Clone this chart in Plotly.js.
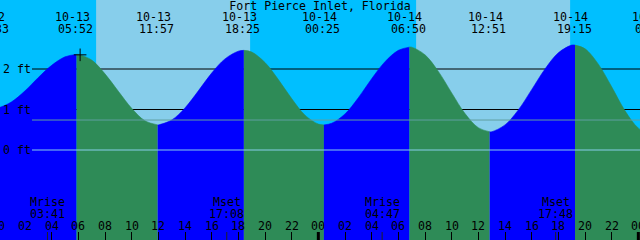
<!DOCTYPE html>
<html><head><meta charset="utf-8">
<script src="https://cdn.plot.ly/plotly-3.0.1.min.js"></script>
<style>html,body{margin:0;padding:0;background:#00BFFF;overflow:hidden;} #chart{width:640px;height:240px;}</style>
</head><body><div id="chart"></div>
<script>
// ---- data ----
const stationName = 'Fort Pierce Inlet, Florida';
const extremeDates = ['10-12','10-13','10-13','10-13','10-14','10-14','10-14','10-14','10-15'];
const extremeTimes = ['23:33','05:52','11:57','18:25','00:25','06:50','12:51','19:15','01:10'];
const extremeHeights = [1.02, 2.36, 0.62, 2.46, 0.62, 2.54, 0.45, 2.59, 0.35];
// hourly tide height readings (ft), starting 10-13 00:00
const readingStartDate = '10-13';
const hourlyHeights = [1.04,1.19,1.46,1.79,2.09,2.30,2.36,2.22,1.88,1.45,1.03,0.72,
  0.62,0.74,1.04,1.46,1.90,2.25,2.44,2.42,2.16,1.74,1.27,0.86,
  0.64,0.66,0.89,1.29,1.76,2.18,2.46,2.54,2.35,1.94,1.41,0.90,
  0.55,0.45,0.62,0.99,1.49,2.00,2.40,2.59,2.50,2.12,1.56,0.97,
  0.54,0.36];
const sunDates = ['10-13','10-14'];
const sunriseTimes = ['07:20','07:20'];
const sunsetTimes = ['18:53','18:53'];
const moonDates = ['10-13','10-13','10-14','10-14'];
const moonEvents = ['Mrise','Mset','Mrise','Mset'];
const moonTimes = ['03:41','17:08','04:47','17:48'];
const hourTicks = [0,2,4,6,8,10,12,14,16,18,20,22,24,26,28,30,32,34,36,38,40,42,44,46,48];
const hourTickLabels = ['00','02','04','06','08','10','12','14','16','18','20','22',
  '00','02','04','06','08','10','12','14','16','18','20','22','00'];
const midnightHours = [0,24,48];
const heightTicks = [0,1,2];
const heightTickLabels = ['0 ft','1 ft','2 ft'];
const gridLevels = [1,2];
const datumLevel = 0;
const midLevel = 0.74;
const nowDate = '10-13', nowTime = '06:08', nowHeight = 2.35;

// ---- helpers ----
const baseDay = parseInt(readingStartDate.split('-')[1], 10);
function toHours(date, time) {
  const d = parseInt(date.split('-')[1], 10) - baseDay;
  const [hh, mm] = time.split(':').map(Number);
  return d * 24 + hh + mm / 60;
}
const X0 = 0.125, X1 = 48.125;
const Y0 = -90 / 40.5, Y1 = 150 / 40.5;
const frac = t => (t - X0) / (X1 - X0);

const FONT = {family: 'DejaVu Sans Mono, monospace', size: 11.6, color: '#000'};
const RISE = '#0000FF', FALL = '#2E8B57';

const extHours = extremeDates.map((d, i) => toHours(d, extremeTimes[i]));
const traces = [];
for (let k = 0; k < extHours.length - 1; k++) {
  const t0 = extHours[k], t1 = extHours[k + 1];
  const xs = [t0], ys = [extremeHeights[k]];
  hourlyHeights.forEach((h, i) => { if (i > t0 && i < t1) { xs.push(i); ys.push(h); } });
  xs.push(t1); ys.push(extremeHeights[k + 1]);
  const rising = extremeHeights[k + 1] > extremeHeights[k];
  const col = rising ? RISE : FALL;
  traces.push({x: [t0, t1], y: [Y0 - 1, Y0 - 1], mode: 'lines', line: {width: 0}, hoverinfo: 'skip', showlegend: false});
  traces.push({x: xs, y: ys, mode: 'lines', line: {width: 0.6, color: col, shape: 'spline', smoothing: 1},
    fill: 'tonexty', fillcolor: col, hoverinfo: 'skip', showlegend: false});
}
traces.push({x: [toHours(nowDate, nowTime)], y: [nowHeight], mode: 'markers',
  marker: {symbol: 'cross-thin', size: 9, line: {width: 1, color: '#000'}}, showlegend: false});

const shapes = [];
sunDates.forEach((d, i) => shapes.push({type: 'rect', layer: 'below', xref: 'x', yref: 'paper',
  x0: toHours(d, sunriseTimes[i]), x1: toHours(d, sunsetTimes[i]), y0: 0, y1: 1,
  fillcolor: '#87CEEB', line: {width: 0}}));
gridLevels.forEach(v => shapes.push({type: 'line', layer: 'below', xref: 'paper', yref: 'y',
  x0: 32 / 640, x1: 1, y0: v, y1: v, line: {color: '#000', width: 1}}));
shapes.push({type: 'line', layer: 'above', xref: 'paper', yref: 'y', x0: 32 / 640, x1: 1,
  y0: midLevel, y1: midLevel, line: {color: '#5F9EA0', width: 1}});
shapes.push({type: 'line', layer: 'above', xref: 'paper', yref: 'y', x0: 32 / 640, x1: 1,
  y0: datumLevel, y1: datumLevel, line: {color: '#87CEEB', width: 1}});
midnightHours.forEach(h => shapes.push({type: 'line', layer: 'above', xref: 'x', yref: 'paper',
  x0: h, x1: h, y0: 0, y1: 8 / 240, line: {color: '#000', width: 3}}));
moonDates.forEach((d, i) => { const t = toHours(d, moonTimes[i]); shapes.push({type: 'line', layer: 'above',
  xref: 'x', yref: 'paper', x0: t, x1: t, y0: 0, y1: 8 / 240, line: {color: '#222', width: 1}}); });

const annotations = [];
const py = p => 1 - p / 240;
function label(xf, ypx, text, xshift) {
  annotations.push({xref: 'paper', yref: 'paper', x: xf, y: py(ypx), xshift: xshift || 0, text: text,
    showarrow: false, xanchor: 'center', yanchor: 'middle', font: FONT});
}
extHours.forEach((t, i) => {
  label(frac(t), 17.3, extremeDates[i], -4.5);
  label(frac(t), 29, extremeTimes[i], -1);
});
moonDates.forEach((d, i) => {
  const t = toHours(d, moonTimes[i]);
  label(frac(t), 202, moonEvents[i], 0);
  label(frac(t), 213.5, moonTimes[i], 0);
});
hourTicks.forEach((h, i) => label(frac(h), 225.5, hourTickLabels[i], 0));

const layout = {
  width: 640, height: 240, margin: {l: 0, r: 0, t: 0, b: 0, pad: 0},
  paper_bgcolor: '#00BFFF', plot_bgcolor: '#00BFFF',
  title: {text: stationName, font: FONT, x: 0.5, xanchor: 'center', y: py(6), yanchor: 'middle'},
  font: FONT, showlegend: false, hovermode: false,
  xaxis: {range: [X0, X1], tickvals: hourTicks, ticks: 'inside', ticklen: 8,
    tickwidth: 1, tickcolor: '#000', showticklabels: false, showgrid: false, zeroline: false,
    showline: false, fixedrange: true},
  yaxis: {range: [Y0, Y1], tickvals: heightTicks, ticktext: heightTickLabels, ticks: '',
    ticklabelposition: 'inside', showgrid: false, zeroline: false, showline: false, tickfont: FONT, fixedrange: true},
  shapes: shapes, annotations: annotations
};
Plotly.newPlot('chart', traces, layout, {staticPlot: true, displayModeBar: false});
</script></body></html>
